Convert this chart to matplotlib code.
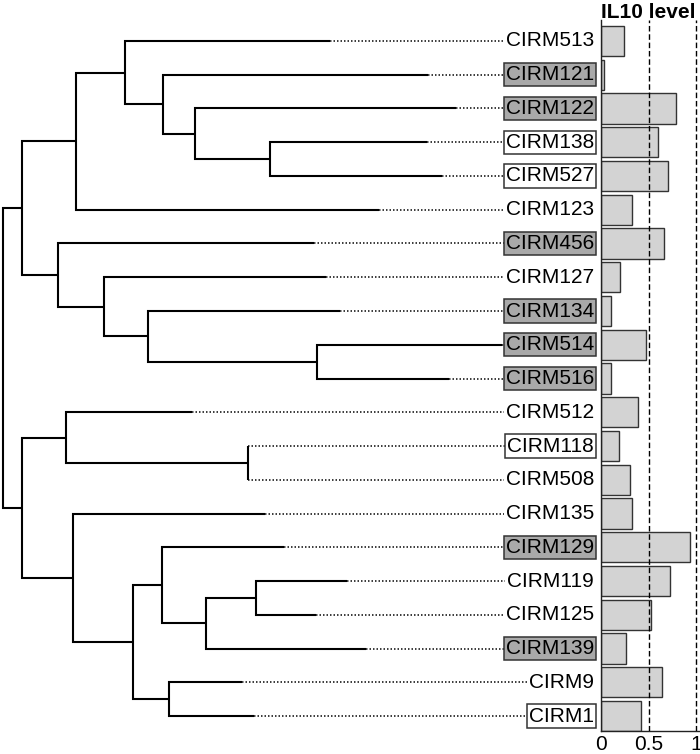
import matplotlib
matplotlib.use("Agg")
import matplotlib.pyplot as plt

# ---------------- data ----------------
leaves = ["CIRM513", "CIRM121", "CIRM122", "CIRM138", "CIRM527", "CIRM123",
          "CIRM456", "CIRM127", "CIRM134", "CIRM514", "CIRM516", "CIRM512",
          "CIRM118", "CIRM508", "CIRM135", "CIRM129", "CIRM119", "CIRM125",
          "CIRM139", "CIRM9", "CIRM1"]
# depth (distance from left edge) where each leaf branch ends
tip_depth = [330, 428, 456, 427, 442, 379, 314, 326, 340, 502, 449, 192,
             248, 248, 265, 284, 347, 316, 366, 242, 254]
il10_level = [0.245, 0.03, 0.79, 0.60, 0.70, 0.33, 0.66, 0.20, 0.10, 0.47,
              0.11, 0.39, 0.19, 0.31, 0.33, 0.94, 0.73, 0.53, 0.26, 0.64, 0.42]
label_style = ["none", "gray", "gray", "white", "white", "none", "gray",
               "none", "gray", "gray", "gray", "none", "white", "none",
               "none", "gray", "none", "none", "gray", "none", "white"]
# internal nodes: (name, depth, upper child, lower child)
merges = [
    ("F", 270, "CIRM138", "CIRM527"),
    ("E", 195, "CIRM122", "F"),
    ("D", 163, "CIRM121", "E"),
    ("C", 125, "CIRM513", "D"),
    ("B", 76, "C", "CIRM123"),
    ("J", 317, "CIRM514", "CIRM516"),
    ("I", 148, "CIRM134", "J"),
    ("H", 104, "CIRM127", "I"),
    ("G", 58, "CIRM456", "H"),
    ("A", 22, "B", "G"),
    ("M", 248, "CIRM118", "CIRM508"),
    ("L", 66, "CIRM512", "M"),
    ("R", 256, "CIRM119", "CIRM125"),
    ("Q", 206, "R", "CIRM139"),
    ("P", 162, "CIRM129", "Q"),
    ("S", 169, "CIRM9", "CIRM1"),
    ("O", 133, "P", "S"),
    ("N", 73, "CIRM135", "O"),
    ("K", 22, "L", "N"),
    ("root", 3, "A", "K"),
]
xticks = [0, 0.5, 1]
xticklabels = ["0", "0.5", "1"]
ref_lines = [0.5, 1.0]
title = "IL10 level"

# ---------------- layout ----------------
W, H = 700, 754
fig = plt.figure(figsize=(W / 100, H / 100), dpi=100)
plt.rcParams['font.family'] = ['Liberation Sans', 'DejaVu Sans']

ax_top_px, ax_bot_px = 20, 731
bottom = 1 - ax_bot_px / H
height = (ax_bot_px - ax_top_px) / H
split_px = 601
ax_tree = fig.add_axes([0, bottom, split_px / W, height])
ax_bar = fig.add_axes([split_px / W, bottom, (W - split_px) / W, height])

n = len(leaves)
ylim = (n - 1 + 0.444, -0.622)

# ---------------- dendrogram ----------------
pos_y = {name: i for i, name in enumerate(leaves)}
pos_x = {name: d for name, d in zip(leaves, tip_depth)}
lw_tree = 1.5
for name, depth, c1, c2 in merges:
    y1, y2 = pos_y[c1], pos_y[c2]
    ax_tree.plot([pos_x[c1], depth, depth, pos_x[c2]], [y1, y1, y2, y2],
                 color="black", lw=lw_tree, solid_capstyle="butt",
                 solid_joinstyle="miter", zorder=2)
    pos_y[name] = (y1 + y2) / 2
    pos_x[name] = depth

label_x = 594
for i, (name, d, st) in enumerate(zip(leaves, tip_depth, label_style)):
    ax_tree.plot([d, label_x], [i, i], color="#1a1a1a", lw=1.2,
                 linestyle=(0, (0.9, 1.2)), zorder=1)
    if st == "gray":
        bb = dict(boxstyle="square,pad=0.1", facecolor="#a9a9a9",
                  edgecolor="#333333", lw=1.1)
    elif st == "white":
        bb = dict(boxstyle="square,pad=0.1", facecolor="white",
                  edgecolor="#333333", lw=1.1)
    else:
        bb = dict(boxstyle="square,pad=0.1", facecolor="white",
                  edgecolor="none")
    ax_tree.text(label_x, i, name, ha="right", va="center", fontsize=15,
                 color="black", bbox=bb, zorder=3)

ax_tree.set_xlim(0, split_px)
ax_tree.set_ylim(*ylim)
ax_tree.axis("off")

# ---------------- bars ----------------
rows = list(range(n))
ax_bar.barh(rows, il10_level, height=0.89, color="#d3d3d3",
            edgecolor="#333333", lw=1.0, zorder=2)
for v in ref_lines:
    ax_bar.axvline(v, color="black", lw=1.0, linestyle=(0, (4, 2)), zorder=3)
ax_bar.set_xlim(0, (W - split_px) / 95)
ax_bar.set_ylim(*ylim)
ax_bar.set_yticks([])
ax_bar.set_xticks(xticks)
ax_bar.set_xticklabels(xticklabels, fontsize=15)
ax_bar.tick_params(axis="x", length=0, pad=3)
for s in ["top", "right"]:
    ax_bar.spines[s].set_visible(False)
for s in ["left", "bottom"]:
    ax_bar.spines[s].set_linewidth(1.0)
    ax_bar.spines[s].set_color("#222222")
ax_bar.text(0.5, 1.003, title, transform=ax_bar.get_xaxis_transform(),
            ha="center", va="baseline", fontsize=15, fontweight="bold",
            clip_on=False)

fig.savefig("out.png", dpi=100)
